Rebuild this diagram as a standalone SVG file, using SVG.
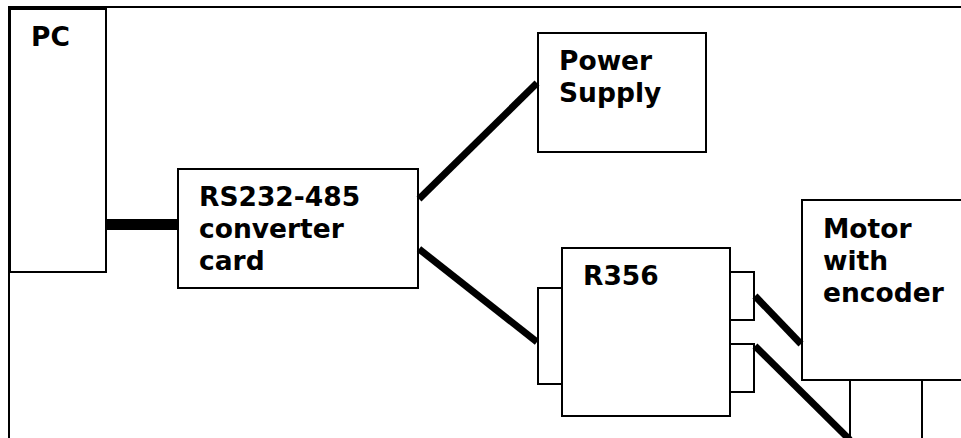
<svg xmlns="http://www.w3.org/2000/svg" width="961" height="438" viewBox="0 0 961 438">
<style>
.box{fill:#fff;stroke:#000;stroke-width:2}
.lbl{font-family:"DejaVu Sans","Verdana",sans-serif;font-weight:bold;font-size:26.5px;fill:#000}
.wire{stroke:#000;stroke-width:7;fill:none}
</style>
<rect width="961" height="438" fill="#fff"/>
<path d="M9,438 V7 H961" fill="none" stroke="#000" stroke-width="2"/>
<g id="pc">
<rect class="box" x="10" y="9" width="96" height="263"/>
<text class="lbl" x="31" y="46">PC</text>
</g>
<g id="converter">
<rect class="box" x="178" y="169" width="240" height="119"/>
<text class="lbl" x="199" y="206">RS232-485</text>
<text class="lbl" x="199" y="238">converter</text>
<text class="lbl" x="199" y="270">card</text>
</g>
<g id="power">
<rect class="box" x="538" y="33" width="168" height="119"/>
<text class="lbl" x="559" y="70">Power</text>
<text class="lbl" x="559" y="102">Supply</text>
</g>
<g id="r356">
<rect class="box" x="538" y="288" width="24" height="96"/>
<rect class="box" x="730" y="272" width="24" height="48"/>
<rect class="box" x="730" y="344" width="24" height="48"/>
<rect class="box" x="562" y="248" width="168" height="168"/>
<text class="lbl" x="583" y="285">R356</text>
</g>
<g id="motor">
<rect class="box" x="802" y="200" width="170" height="180"/>
<text class="lbl" x="823" y="238">Motor</text>
<text class="lbl" x="823" y="270">with</text>
<text class="lbl" x="823" y="302">encoder</text>
</g>
<g id="encoder">
<rect class="box" x="850" y="380" width="72" height="70"/>
</g>
<g id="connectors">
<rect x="106" y="219" width="72" height="11" fill="#000"/>
<line class="wire" x1="419" y1="199" x2="537" y2="83"/>
<line class="wire" x1="419" y1="249" x2="537" y2="342"/>
<line class="wire" x1="755" y1="296" x2="801" y2="344"/>
<line class="wire" x1="755" y1="346" x2="850" y2="440"/>
</g>
</svg>
